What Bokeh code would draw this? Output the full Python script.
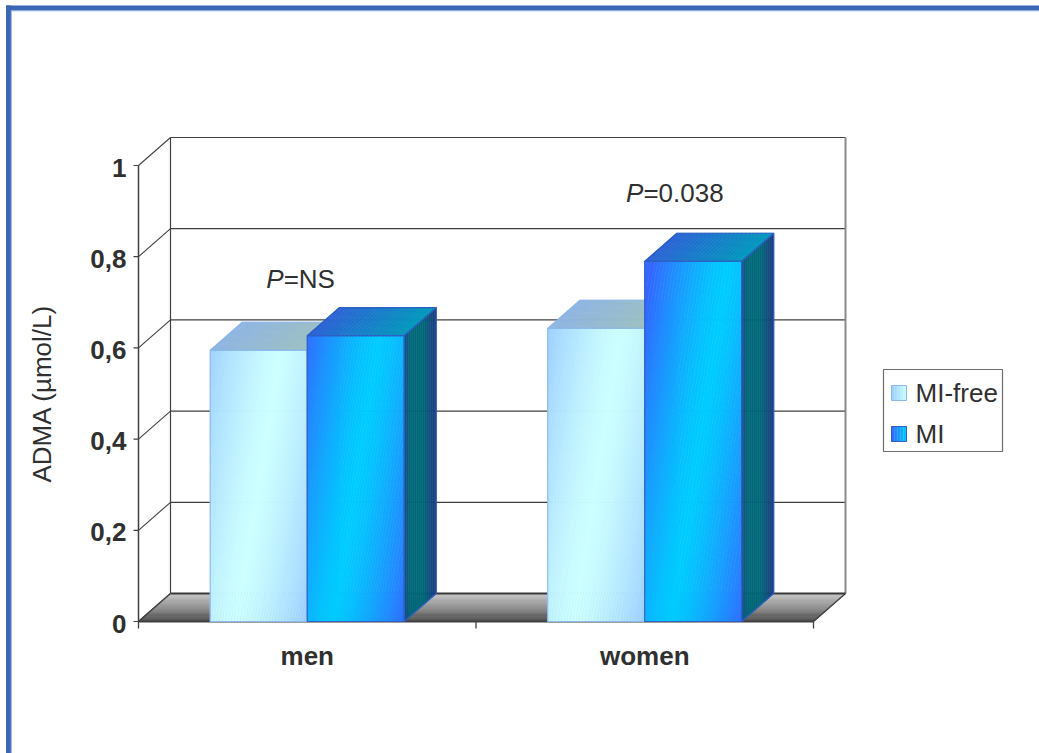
import numpy as np
from bokeh.plotting import figure
from bokeh.models import Range1d
from bokeh.core.properties import value
from bokeh.embed import file_html
from bokeh.resources import INLINE

# ---------------- data ----------------
categories = ["men", "women"]
series_names = ["MI-free", "MI"]
adma_mi_free = [0.595, 0.643]
adma_mi = [0.627, 0.790]
y_ticks = [0.0, 0.2, 0.4, 0.6, 0.8, 1.0]
y_tick_labels = ["0", "0,2", "0,4", "0,6", "0,8", "1"]
p_values = ["NS", "0.038"]
y_axis_title = "ADMA (µmol/L)"

# ---------------- layout (pixels -> data units) ----------------
W_PX, H_PX = 1039, 753
ORIGIN = (138.0, 621.0)      # canvas pixel of the front-plane origin (0, 0)
X_SCALE = 337.5              # px per category unit
Y_SCALE = 456.0              # px per ADMA unit


def px_x(n):
    return n / X_SCALE


def px_y(n):
    return n / Y_SCALE


def at_x(px):
    return (px - ORIGIN[0]) / X_SCALE


def at_y(py):
    return (ORIGIN[1] - py) / Y_SCALE


DX, DY = px_x(32), px_y(28)          # 3-D depth offset
BAR_W = px_x(97)
N_CAT = len(categories)
SLOPE = 0.16 * Y_SCALE / X_SCALE     # tilt of the diagonal shine band
REACH = px_x(76)

FONT = value("Liberation Sans")
TXT = "#303030"
LINE = "#404040"


def hex2rgb(h):
    h = h.lstrip("#")
    return np.array([int(h[i:i + 2], 16) for i in (0, 2, 4)], float)


def mix(c1, c2, t):
    a, b = hex2rgb(c1), hex2rgb(c2)
    c = a + (b - a) * float(np.clip(t, 0, 1))
    return "#%02x%02x%02x" % tuple(int(round(v)) for v in c)


def ramp(stops, t):
    # stops: list of (pos, color)
    for (p0, c0), (p1, c1) in zip(stops[:-1], stops[1:]):
        if t <= p1:
            return mix(c0, c1, (t - p0) / (p1 - p0) if p1 > p0 else 0)
    return stops[-1][1]


def clip(poly, a, b, c):
    """keep the part of poly with a*x + b*y <= c"""
    out = []
    n = len(poly)
    for i in range(n):
        P, Q = poly[i], poly[(i + 1) % n]
        fp = a * P[0] + b * P[1] - c
        fq = a * Q[0] + b * Q[1] - c
        if fp <= 0:
            out.append(P)
        if fp * fq < 0:
            t = fp / (fp - fq)
            out.append((P[0] + t * (Q[0] - P[0]), P[1] + t * (Q[1] - P[1])))
    return out


p = figure(width=W_PX, height=H_PX, min_border=0,
           x_range=Range1d(at_x(0), at_x(W_PX)),
           y_range=Range1d(at_y(H_PX), at_y(0)),
           x_axis_type=None, y_axis_type=None,
           toolbar_location=None, output_backend="svg")
p.grid.visible = False
p.outline_line_color = None
p.background_fill_color = "white"
p.border_fill_color = "white"


def draw_polys(polys, colors, lw=0.6):
    p.patches(xs=[[q[0] for q in pl] for pl in polys],
              ys=[[q[1] for q in pl] for pl in polys],
              fill_color=colors, line_color=colors, line_width=lw)


# ---------------- page frame ----------------
p.segment(x0=[at_x(8)], y0=[at_y(5)], x1=[at_x(8)], y1=[at_y(H_PX)],
          line_color="#3c67b4", line_width=5)
p.segment(x0=[at_x(5.5)], y0=[at_y(7.5)], x1=[at_x(W_PX)], y1=[at_y(7.5)],
          line_color="#3c67b4", line_width=5)
p.segment(x0=[at_x(10.8)], y0=[at_y(10.3)], x1=[at_x(10.8)], y1=[at_y(H_PX)],
          line_color="#8fa9d9", line_width=1)
p.segment(x0=[at_x(10.3)], y0=[at_y(10.3)], x1=[at_x(W_PX)], y1=[at_y(10.3)],
          line_color="#8fa9d9", line_width=1)

X_END = float(N_CAT)

# ---------------- walls ----------------
wall_ticks = [t for t in y_ticks if t > 0]
p.segment(x0=[DX] * len(wall_ticks), y0=[t + DY for t in wall_ticks],
          x1=[X_END + DX] * len(wall_ticks), y1=[t + DY for t in wall_ticks],
          line_color=LINE, line_width=1.2)
p.segment(x0=[0.0] * len(y_ticks), y0=y_ticks,
          x1=[DX] * len(y_ticks), y1=[t + DY for t in y_ticks],
          line_color=LINE, line_width=1.1)
p.segment(x0=[DX], y0=[DY], x1=[DX], y1=[y_ticks[-1] + DY],
          line_color=LINE, line_width=1.2)
p.segment(x0=[X_END + DX], y0=[DY], x1=[X_END + DX], y1=[y_ticks[-1] + DY],
          line_color="#8a8a8a", line_width=2)

# value axis on the front plane
p.segment(x0=[0.0], y0=[0.0], x1=[0.0], y1=[y_ticks[-1]],
          line_color=LINE, line_width=1.5)
p.segment(x0=[-px_x(5)] * len(y_ticks), y0=y_ticks,
          x1=[0.0] * len(y_ticks), y1=y_ticks,
          line_color=LINE, line_width=1.2)

# ---------------- floor ----------------
n_f = 30
fl_polys, fl_cols = [], []
for i in range(n_f):
    w0, w1 = i / n_f, (i + 1) / n_f
    fl_polys.append([(w0 * DX, w0 * DY), (X_END + w0 * DX, w0 * DY),
                     (X_END + w1 * DX, w1 * DY), (w1 * DX, w1 * DY)])
    fl_cols.append(ramp([(0, "#4a4a4a"), (0.5, "#8e8e8e"), (1, "#c6c6c6")],
                        (i + 0.5) / n_f))
draw_polys(fl_polys, fl_cols)
p.segment(x0=[DX], y0=[DY], x1=[X_END + DX], y1=[DY],
          line_color="#383838", line_width=2.2)
p.segment(x0=[0.0, X_END], y0=[0.0, 0.0], x1=[DX, X_END + DX], y1=[DY, DY],
          line_color=LINE, line_width=1.4)
p.segment(x0=[0.0], y0=[0.0], x1=[X_END], y1=[0.0],
          line_color=LINE, line_width=2)
cat_edges = [float(i) for i in range(N_CAT + 1)]
p.segment(x0=cat_edges, y0=[0.0] * len(cat_edges), x1=cat_edges,
          y1=[-px_y(7)] * len(cat_edges), line_color=LINE, line_width=1.3)

# ---------------- bars ----------------
STYLE = {
    "MI-free": dict(mid="#ccffff", edge="#99ccff",
                    top=("#8eb4e2", "#9cc0c0"),
                    side=[(0, "#7fb0d8"), (1, "#6a98c8")],
                    outline="#8cb8ec"),
    "MI": dict(mid="#00ccff", edge="#3366ff",
               top=("#2c62d6", "#0099bb"),
               side=[(0, "#134f86"), (0.22, "#006878"), (0.6, "#006878"),
                     (1, "#1f3a82")],
               outline="#2f5fc4"),
}


def draw_bar(x0, h, st):
    w = BAR_W
    x1 = x0 + w
    # front face with a broad diagonal shine band
    n = 48
    g_lo, g_hi = x0 - SLOPE * h, x1
    edges = np.linspace(g_lo, g_hi, n + 1)
    rect = [(x0, 0.0), (x1, 0.0), (x1, h), (x0, h)]
    band = x0 + 0.27 * w
    polys, cols = [], []
    for a, b in zip(edges[:-1], edges[1:]):
        poly = clip(rect, -1.0, SLOPE, -a)
        poly = clip(poly, 1.0, -SLOPE, b)
        if len(poly) < 3:
            continue
        d = abs(0.5 * (a + b) - band) / REACH
        polys.append(poly)
        cols.append(mix(st["mid"], st["edge"], min(d, 1.0) ** 1.35))
    draw_polys(polys, cols)
    # right side face
    n_s = 16
    polys, cols = [], []
    for i in range(n_s):
        w0, w1 = i / n_s, (i + 1) / n_s
        polys.append([(x1 + w0 * DX, w0 * DY), (x1 + w1 * DX, w1 * DY),
                      (x1 + w1 * DX, h + w1 * DY), (x1 + w0 * DX, h + w0 * DY)])
        cols.append(ramp(st["side"], (i + 0.5) / n_s))
    draw_polys(polys, cols)
    # top face
    n_t = 24
    polys, cols = [], []
    for i in range(n_t):
        u0, u1 = i / n_t, (i + 1) / n_t
        polys.append([(x0 + u0 * w, h), (x0 + u1 * w, h),
                      (x0 + u1 * w + DX, h + DY), (x0 + u0 * w + DX, h + DY)])
        cols.append(mix(st["top"][0], st["top"][1], (i + 0.5) / n_t))
    draw_polys(polys, cols)
    # edges
    front = [(x0, 0.0), (x1, 0.0), (x1, h), (x0, h)]
    top = [(x0, h), (x1, h), (x1 + DX, h + DY), (x0 + DX, h + DY)]
    side = [(x1, 0.0), (x1 + DX, DY), (x1 + DX, h + DY), (x1, h)]
    p.patches(xs=[[q[0] for q in f] for f in (front, top, side)],
              ys=[[q[1] for q in f] for f in (front, top, side)],
              fill_alpha=0, line_color=st["outline"], line_width=1.1)


for ci in range(N_CAT):
    centre = ci + 0.5
    draw_bar(centre - BAR_W, adma_mi_free[ci], STYLE["MI-free"])
    draw_bar(centre, adma_mi[ci], STYLE["MI"])

# ---------------- texts ----------------
p.text(x=[-px_x(12)] * len(y_ticks), y=[t - px_y(2) for t in y_ticks],
       text=y_tick_labels, text_font=FONT, text_font_size=value("26px"),
       text_font_style="bold", text_color=TXT,
       text_align="right", text_baseline="middle")
p.text(x=[ci + 0.5 for ci in range(N_CAT)], y=[-px_y(34)] * N_CAT,
       text=categories, text_font=FONT, text_font_size=value("26px"),
       text_font_style="bold", text_color=TXT,
       text_align="center", text_baseline="middle")
p.text(x=[at_x(41)], y=[0.5], text=[y_axis_title], angle=np.pi / 2,
       text_font=FONT, text_font_size=value("26px"), text_color=TXT,
       text_align="center", text_baseline="middle")

# significance annotations above each group
p_label_pos = [(0.43, 0.752), (1.496, 0.939)]
p.text(x=[q[0] for q in p_label_pos], y=[q[1] for q in p_label_pos],
       text=["P"] * len(p_values), text_font=FONT,
       text_font_size=value("26px"), text_font_style="italic", text_color=TXT,
       text_align="right", text_baseline="middle")
p.text(x=[q[0] for q in p_label_pos], y=[q[1] for q in p_label_pos],
       text=["=" + v for v in p_values], text_font=FONT,
       text_font_size=value("26px"), text_color=TXT,
       text_align="left", text_baseline="middle")

# ---------------- legend ----------------
lg_l, lg_r, lg_t, lg_b = at_x(883), at_x(1002), at_y(369), at_y(451)
p.quad(left=[lg_l], right=[lg_r], top=[lg_t], bottom=[lg_b],
       fill_color="white", line_color="#6e6e6e", line_width=1.2)
legend_rows_px = [392.5, 433.5]
sq = 15
for name, row in zip(series_names, legend_rows_px):
    st = STYLE[name]
    n_l = 10
    polys, cols = [], []
    for i in range(n_l):
        a = at_x(891 + sq * i / n_l)
        b = at_x(891 + sq * (i + 1) / n_l)
        polys.append([(a, at_y(row - sq / 2)), (b, at_y(row - sq / 2)),
                      (b, at_y(row + sq / 2)), (a, at_y(row + sq / 2))])
        cols.append(mix(st["edge"], st["mid"], (i + 0.5) / n_l))
    draw_polys(polys, cols, lw=0.3)
    p.quad(left=[at_x(891)], right=[at_x(891 + sq)], top=[at_y(row - sq / 2)],
           bottom=[at_y(row + sq / 2)], fill_alpha=0,
           line_color=st["outline"], line_width=1)
p.text(x=[at_x(915)] * len(series_names),
       y=[at_y(r) for r in legend_rows_px], text=series_names,
       text_font=FONT, text_font_size=value("26px"), text_color=TXT,
       text_align="left", text_baseline="middle")

open("out.html", "w").write(file_html(p, INLINE))
